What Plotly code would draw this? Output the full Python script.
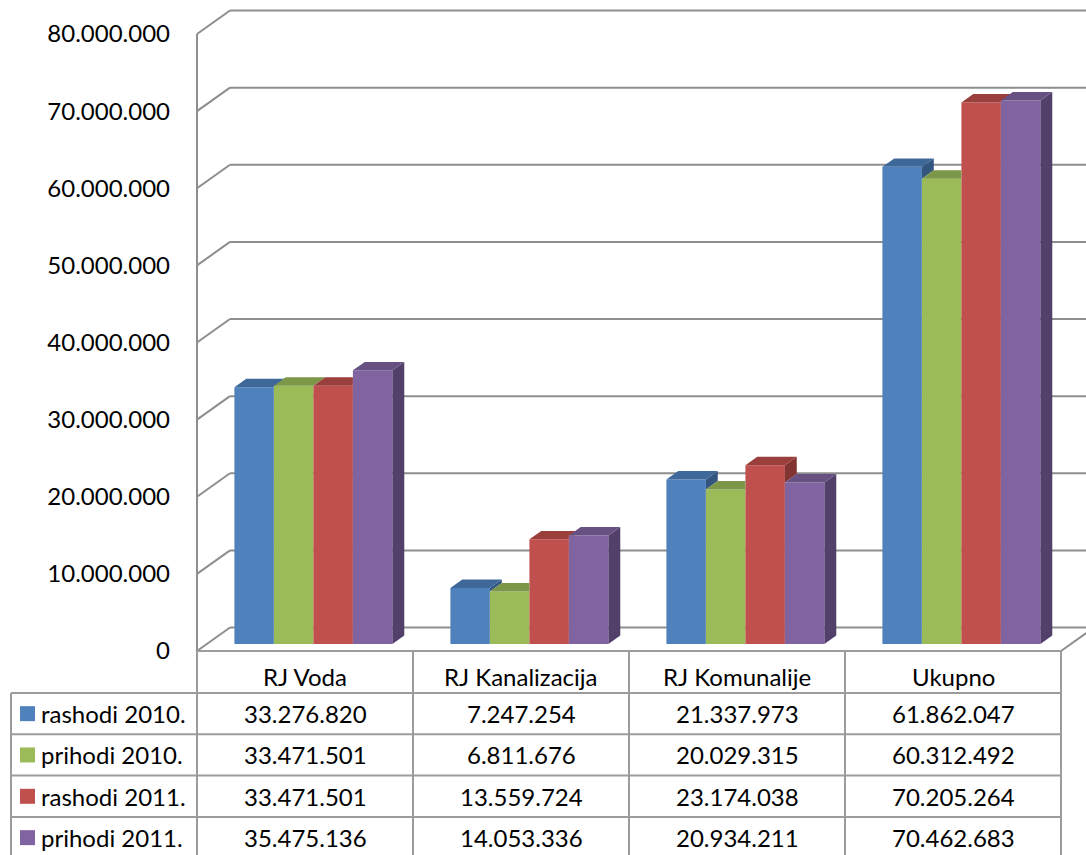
import plotly.graph_objects as go

# ---------------- data ----------------
categories = ["RJ Voda", "RJ Kanalizacija", "RJ Komunalije", "Ukupno"]
series_names = ["rashodi 2010.", "prihodi 2010.", "rashodi 2011.", "prihodi 2011."]
rashodi_2010 = [33276820, 7247254, 21337973, 61862047]
prihodi_2010 = [33471501, 6811676, 20029315, 60312492]
rashodi_2011 = [33471501, 13559724, 23174038, 70205264]
prihodi_2011 = [35475136, 14053336, 20934211, 70462683]
y_ticks = [0, 10000000, 20000000, 30000000, 40000000, 50000000, 60000000, 70000000, 80000000]

series_values = [rashodi_2010, prihodi_2010, rashodi_2011, prihodi_2011]

# ---------------- styles ----------------
front_colors = ["#4F81BD", "#9BBB59", "#C0504D", "#8064A2"]
top_colors = ["#3E6899", "#7C9747", "#9B3F3C", "#665182"]
side_colors = ["#33567F", "#66803B", "#813432", "#52406B"]
GRID = "#8E8E8E"
TABLE_LINE = "#9C9C9C"
FONT = "Lato"
FS = 24

# ---------------- geometry (pixel layout -> axis units) ----------------
W, H = 1086, 855
LEFT_PX = 197        # front-left edge of the chart floor
COL_PX = 216         # width of one category column
FLOOR_PX = 651       # front floor edge
K = 617 / 80e6       # pixels per value unit


def px_x(px):
    return -0.5 + (px - LEFT_PX) / COL_PX


def px_y(py):
    return (FLOOR_PX - py) / K


DX = 33 / COL_PX      # full depth, x
DY = 23.5 / K         # full depth, y
F0, F1 = 0.30, 0.66   # bar depth from front
BASE = F0 * DY
ddx = (F1 - F0) * DX
ddy = (F1 - F0) * DY
BW = 39.5 / COL_PX
GROUP_LEFT = -0.5 + 27.5 / COL_PX + F0 * DX

fig = go.Figure()

# front faces
xs = list(range(len(categories)))
for j, (name, vals) in enumerate(zip(series_names, series_values)):
    fig.add_trace(go.Bar(
        x=xs, y=vals, base=BASE, width=BW, offset=GROUP_LEFT + j * BW,
        marker=dict(color=front_colors[j], line=dict(width=0)),
        name=name, showlegend=False, hoverinfo="skip",
    ))

# top and side faces
for j, vals in enumerate(series_values):
    tx, ty, sx, sy = [], [], [], []
    for i, v in enumerate(vals):
        x0 = i + GROUP_LEFT + j * BW
        x1 = x0 + BW
        yt = BASE + v
        nxt = series_values[j + 1][i] if j < 3 else None
        if nxt is None or nxt <= v:
            pts = [(x0, yt), (x1, yt), (x1 + ddx, yt + ddy), (x0 + ddx, yt + ddy)]
        else:
            cc = min(BASE + nxt, yt + ddy)
            xc = x1 + ddx * (cc - yt) / ddy
            pts = [(x0, yt), (x1, yt), (x1, cc), (xc, cc), (x1 + ddx, yt + ddy), (x0 + ddx, yt + ddy)]
        for p in pts + [pts[0]]:
            tx.append(p[0]); ty.append(p[1])
        tx.append(None); ty.append(None)
        if nxt is None or nxt < v:
            lo = BASE if nxt is None else BASE + nxt
            spts = [(x1, lo), (x1 + ddx, lo + ddy), (x1 + ddx, yt + ddy), (x1, yt)]
            for p in spts + [spts[0]]:
                sx.append(p[0]); sy.append(p[1])
            sx.append(None); sy.append(None)
    fig.add_trace(go.Scatter(x=sx, y=sy, mode="lines", fill="toself",
                             fillcolor=side_colors[j], line=dict(width=0),
                             showlegend=False, hoverinfo="skip"))
    fig.add_trace(go.Scatter(x=tx, y=ty, mode="lines", fill="toself",
                             fillcolor=top_colors[j], line=dict(width=0),
                             showlegend=False, hoverinfo="skip"))

shapes = []
x_left = -0.5
x_far = px_x(W + 40)
# back wall gridlines + left wall obliques
for v in y_ticks:
    shapes.append(dict(type="line", xref="x", yref="y", x0=x_left, y0=v, x1=x_left + DX, y1=v + DY,
                       line=dict(color=GRID, width=2), layer="below"))
    shapes.append(dict(type="line", xref="x", yref="y", x0=x_left + DX, y0=v + DY, x1=x_far, y1=v + DY,
                       line=dict(color=GRID, width=2), layer="below"))
# left wall front edge
shapes.append(dict(type="line", xref="x", yref="y", x0=x_left, y0=0, x1=x_left, y1=y_ticks[-1],
                   line=dict(color=GRID, width=2), layer="below"))
# floor right edge
n = len(categories)
shapes.append(dict(type="line", xref="x", yref="y", x0=n - 0.5, y0=0, x1=n - 0.5 + DX, y1=DY,
                   line=dict(color=GRID, width=2), layer="below"))

# ---------------- data table ----------------
ROW_PX = [651, 693, 734.3, 775.6, 817, 858.3]
LEG_LEFT_PX = 11
for r, py in enumerate(ROW_PX):
    xa = x_left if r == 0 else px_x(LEG_LEFT_PX)
    shapes.append(dict(type="line", xref="x", yref="y", x0=xa, y0=px_y(py), x1=n - 0.5, y1=px_y(py),
                       line=dict(color=TABLE_LINE, width=2)))
for c in range(n + 1):
    shapes.append(dict(type="line", xref="x", yref="y", x0=c - 0.5, y0=px_y(651), x1=c - 0.5, y1=px_y(H + 10),
                       line=dict(color=TABLE_LINE, width=2)))
shapes.append(dict(type="line", xref="x", yref="y", x0=px_x(LEG_LEFT_PX), y0=px_y(693),
                   x1=px_x(LEG_LEFT_PX), y1=px_y(H + 10), line=dict(color=TABLE_LINE, width=2)))

annotations = []
for i, cat in enumerate(categories):
    annotations.append(dict(x=i, y=px_y(676), xref="x", yref="y", text=cat, showarrow=False,
                            font=dict(family=FONT, size=FS, color="black"), xanchor="center", yanchor="middle"))
for j, vals in enumerate(series_values):
    yc = px_y((ROW_PX[j + 1] + ROW_PX[j + 2]) / 2)
    for i, v in enumerate(vals):
        annotations.append(dict(x=i, y=yc, xref="x", yref="y", text=f"{v:,}".replace(",", "."),
                                showarrow=False, font=dict(family=FONT, size=FS, color="black"),
                                xanchor="center", yanchor="middle"))
    annotations.append(dict(x=px_x(39), y=yc, xref="x", yref="y", text=series_names[j],
                            showarrow=False, font=dict(family=FONT, size=FS, color="black"),
                            xanchor="left", yanchor="middle"))

leg_y = [px_y((ROW_PX[j + 1] + ROW_PX[j + 2]) / 2) for j in range(4)]
fig.add_trace(go.Scatter(x=[px_x(27.5)] * 4, y=leg_y, mode="markers",
                         marker=dict(symbol="square", size=15, color=front_colors, line=dict(width=0)),
                         showlegend=False, hoverinfo="skip"))

fig.update_layout(
    width=W, height=H,
    margin=dict(l=0, r=0, t=0, b=0),
    paper_bgcolor="white", plot_bgcolor="white",
    separators=",.",
    barmode="overlay",
    showlegend=False,
    shapes=shapes,
    annotations=annotations,
    xaxis=dict(range=[px_x(0), px_x(W)], visible=False, fixedrange=True),
    yaxis=dict(range=[px_y(H), px_y(0)], anchor="free", position=LEFT_PX / W,
               tickvals=y_ticks, tickformat=",d", showgrid=False, zeroline=False,
               showline=False, ticks="", ticklabelstandoff=27,
               tickfont=dict(family=FONT, size=FS, color="black"), fixedrange=True),
)

fig.write_html("out.html", config={"displayModeBar": False},
               post_script="document.body.style.margin='0';document.body.style.overflow='hidden';")
